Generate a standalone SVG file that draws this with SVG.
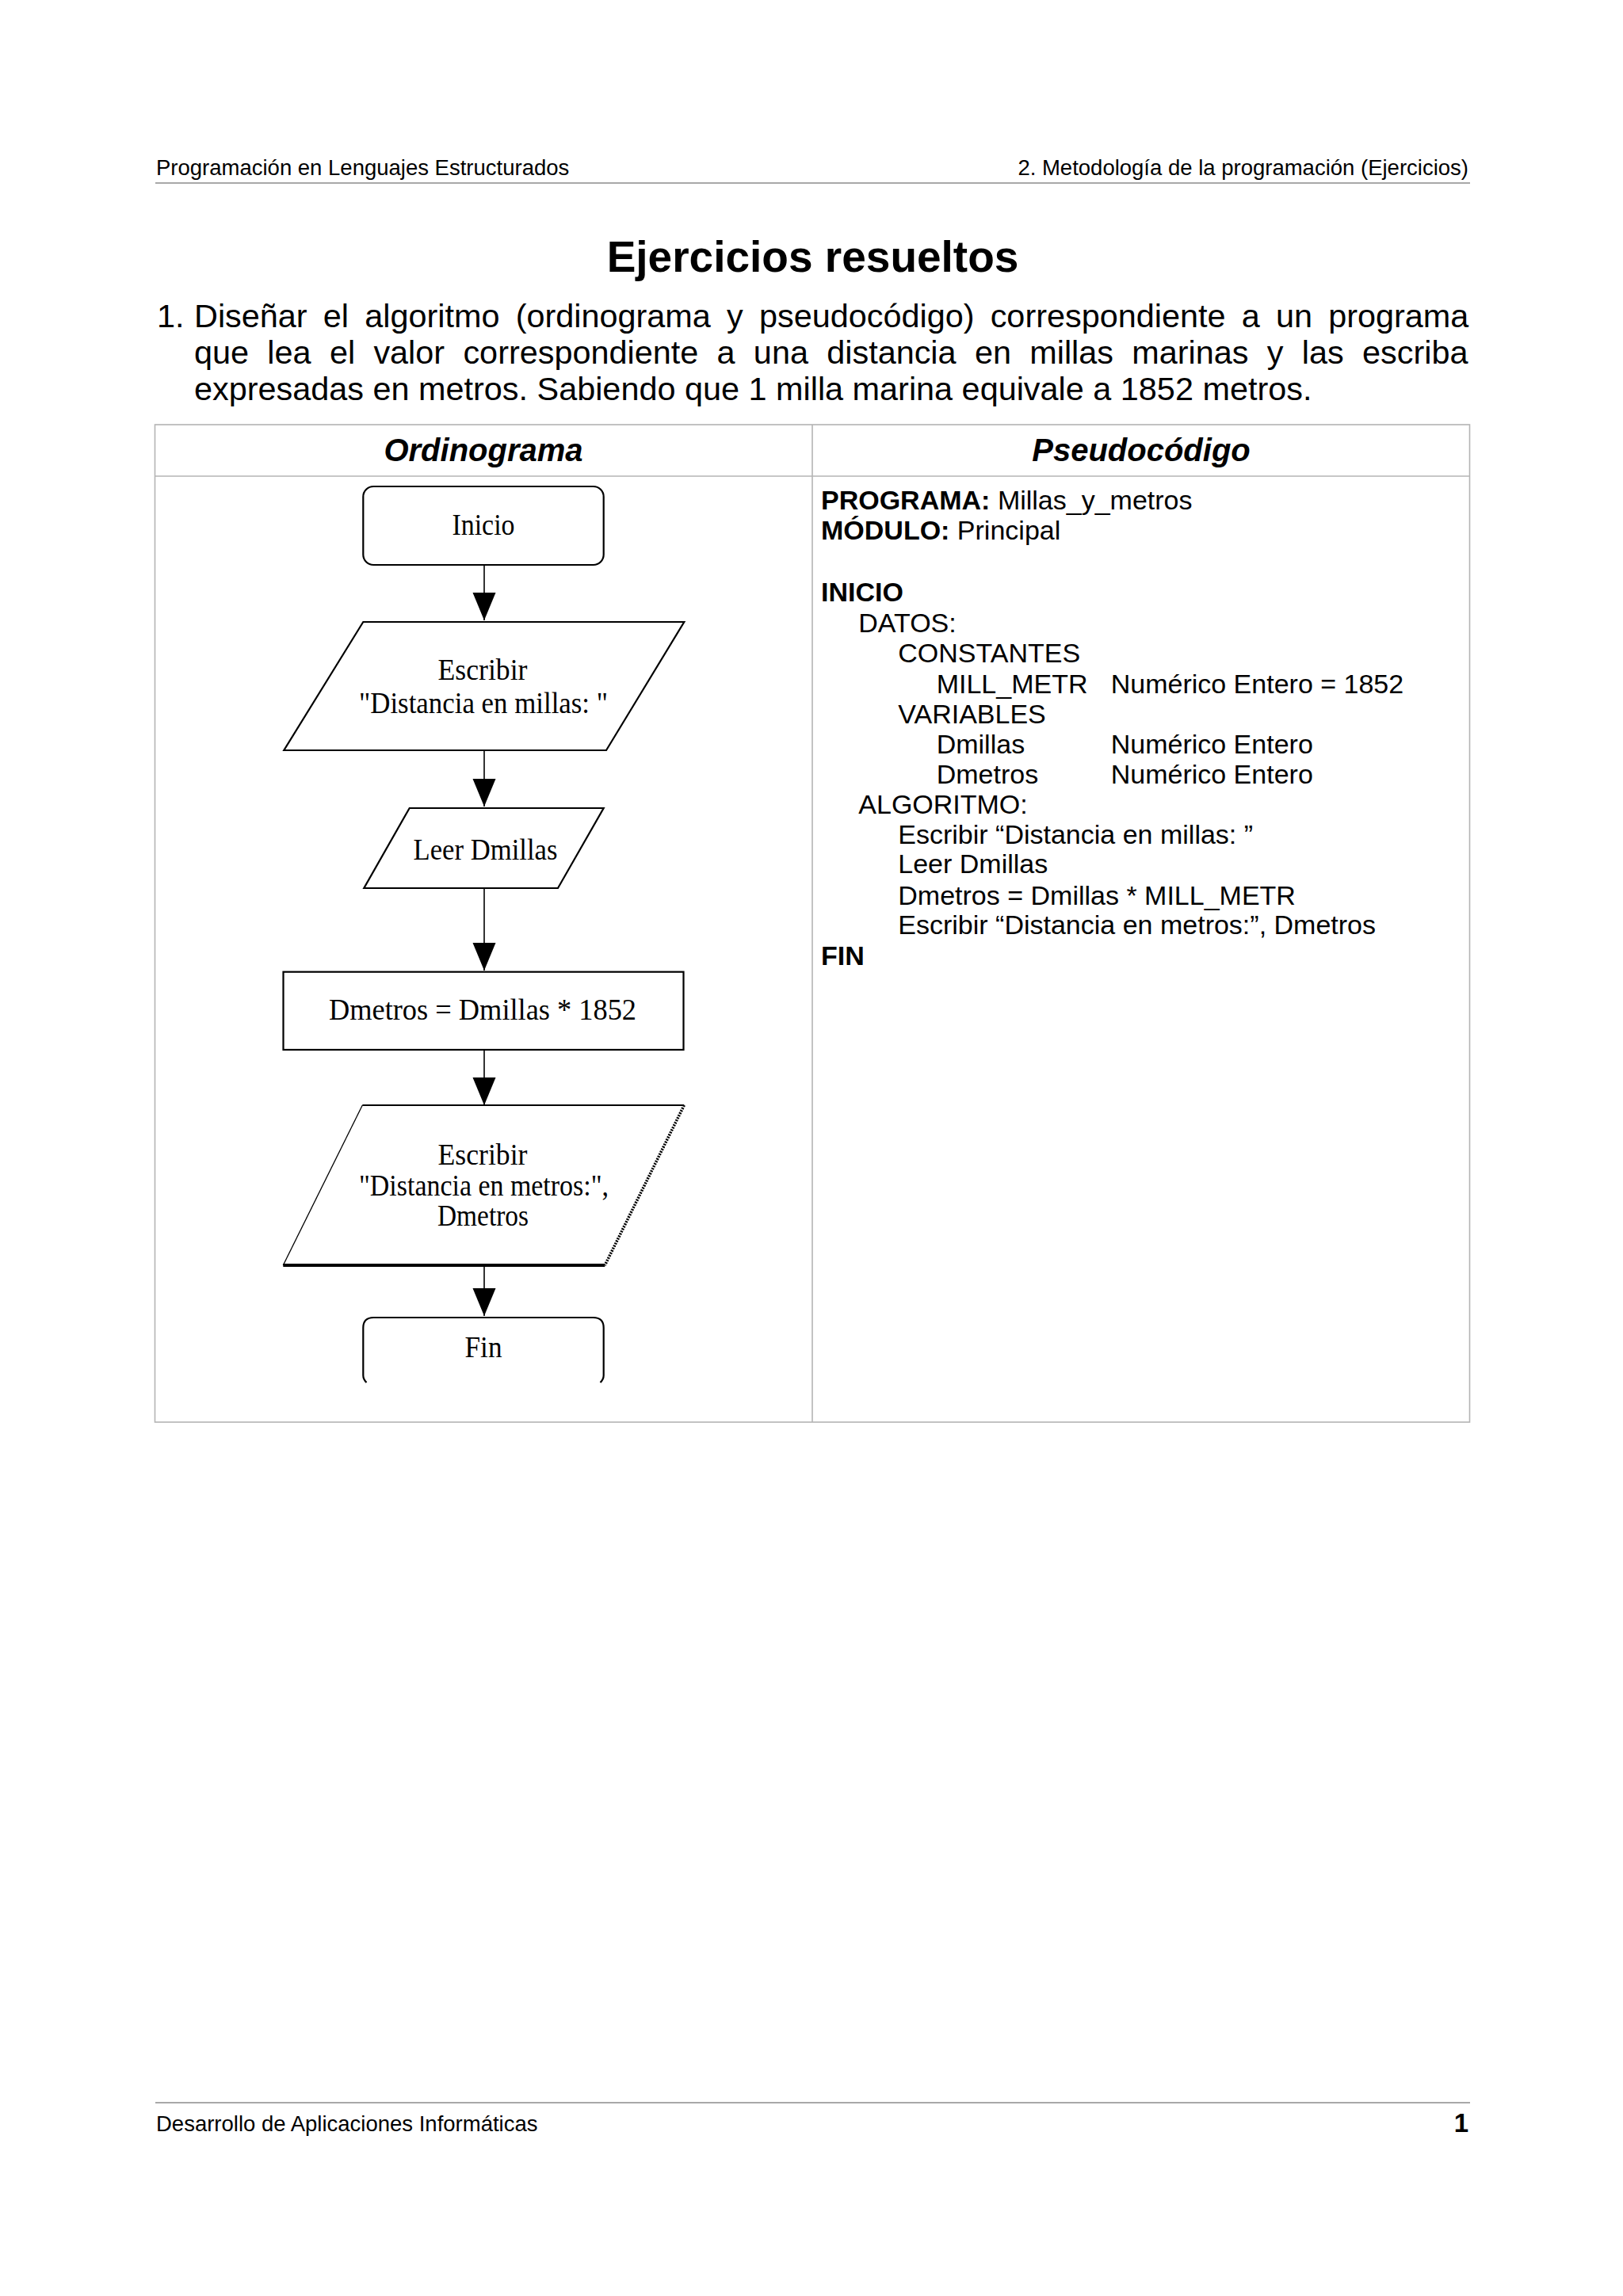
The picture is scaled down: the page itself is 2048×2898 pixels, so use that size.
<svg xmlns="http://www.w3.org/2000/svg" width="2048" height="2898" viewBox="0 0 2048 2898">
<style>
.sans{font-family:"Liberation Sans",Arial,sans-serif;fill:#000}
.b{font-weight:bold}
.hdr{font-size:27.5px}
.para{font-size:41.4px}
.code{font-size:34px}
.fc{font-family:"Liberation Serif","Times New Roman",serif;font-size:38px;fill:#000}
.shape{fill:#fff;stroke:#000;stroke-width:2.2}
.rule{stroke:#a8a8a8;stroke-width:2;fill:none}
.tbl{stroke:#b4b4b4;stroke-width:1.6;fill:none}
.conn{stroke:#000;stroke-width:1.6;fill:none}
</style>
<defs>
<marker id="ah" markerUnits="userSpaceOnUse" viewBox="0 -15 36 30" refX="35" refY="0" markerWidth="36" markerHeight="30" orient="auto">
<path d="M0,-14.5 L35,0 L0,14.5 Z" fill="#000"/>
</marker>
</defs>
<rect width="2048" height="2898" fill="#fff"/>

<g id="page-header">
<text class="sans hdr" x="197" y="220.5">Programación en Lenguajes Estructurados</text>
<text class="sans hdr" x="1853" y="220.5" text-anchor="end">2. Metodología de la programación (Ejercicios)</text>
<line class="rule" x1="196" y1="231" x2="1855" y2="231"/>
</g>

<g id="title">
<text class="sans b" x="1025.5" y="343" font-size="55" text-anchor="middle">Ejercicios resueltos</text>
</g>

<g id="statement">
<text class="sans para" x="198" y="413">1.</text>
<text class="sans para" x="245" y="413" word-spacing="8.7">Diseñar el algoritmo (ordinograma y pseudocódigo) correspondiente a un programa</text>
<text class="sans para" x="245" y="458.5" word-spacing="11.8">que lea el valor correspondiente a una distancia en millas marinas y las escriba</text>
<text class="sans para" x="245" y="505">expresadas en metros. Sabiendo que 1 milla marina equivale a 1852 metros.</text>
</g>

<g id="table">
<rect class="tbl" x="195.5" y="536" width="1659" height="1259"/>
<line class="tbl" x1="195.5" y1="601" x2="1854.5" y2="601"/>
<line class="tbl" x1="1025" y1="536" x2="1025" y2="1795"/>
<text class="sans b" x="610" y="582" font-size="40" font-style="italic" text-anchor="middle">Ordinograma</text>
<text class="sans b" x="1440" y="582" font-size="40" font-style="italic" text-anchor="middle">Pseudocódigo</text>
</g>

<g id="connectors">
<line class="conn" x1="611" y1="713" x2="611" y2="783" marker-end="url(#ah)"/>
<line class="conn" x1="611" y1="947" x2="611" y2="1018" marker-end="url(#ah)"/>
<line class="conn" x1="611" y1="1121" x2="611" y2="1225" marker-end="url(#ah)"/>
<line class="conn" x1="611" y1="1325" x2="611" y2="1395" marker-end="url(#ah)"/>
<line class="conn" x1="611" y1="1597" x2="611" y2="1661" marker-end="url(#ah)"/>
</g>

<g id="node-inicio">
<rect class="shape" x="458.3" y="614" width="303.4" height="99" rx="13" ry="13"/>
<text class="fc" x="610" y="675" text-anchor="middle" textLength="79" lengthAdjust="spacingAndGlyphs">Inicio</text>
</g>

<g id="node-escribir-millas">
<polygon class="shape" points="458.3,785 863.3,785 765,947 358.3,947"/>
<text class="fc" x="609" y="858" text-anchor="middle" textLength="113" lengthAdjust="spacingAndGlyphs">Escribir</text>
<text class="fc" x="610" y="900" text-anchor="middle" textLength="314" lengthAdjust="spacingAndGlyphs">"Distancia en millas: "</text>
</g>

<g id="node-leer">
<polygon class="shape" points="516.7,1020 761.7,1020 704,1121 459.3,1121"/>
<text class="fc" x="612.5" y="1085" text-anchor="middle" textLength="182" lengthAdjust="spacingAndGlyphs">Leer Dmillas</text>
</g>

<g id="node-calculo">
<rect class="shape" x="357.5" y="1226.7" width="505" height="98.3"/>
<text class="fc" x="609" y="1287" text-anchor="middle" textLength="388" lengthAdjust="spacingAndGlyphs">Dmetros = Dmillas * 1852</text>
</g>

<g id="node-escribir-metros">
<polygon points="457.3,1395 863.3,1395 763.3,1597 357.3,1597" fill="#fff"/>
<line x1="457.3" y1="1395" x2="863.3" y2="1395" stroke="#000" stroke-width="2.2"/>
<line x1="863.3" y1="1395" x2="763.3" y2="1597" stroke="#000" stroke-width="3.6" stroke-dasharray="2,1.4"/>
<line x1="357.3" y1="1597" x2="763.3" y2="1597" stroke="#000" stroke-width="4"/>
<line x1="457.3" y1="1395" x2="357.3" y2="1597" stroke="#000" stroke-width="1.3"/>
<text class="fc" x="609" y="1470" text-anchor="middle" textLength="113" lengthAdjust="spacingAndGlyphs">Escribir</text>
<text class="fc" x="610.5" y="1508.5" text-anchor="middle" textLength="315" lengthAdjust="spacingAndGlyphs">"Distancia en metros:",</text>
<text class="fc" x="609.5" y="1547" text-anchor="middle" textLength="115" lengthAdjust="spacingAndGlyphs">Dmetros</text>
</g>

<g id="node-fin">
<path class="shape" d="M462.5,1745 Q458.3,1741 458.3,1736 L458.3,1676 Q458.3,1663 471.3,1663 L748.7,1663 Q761.7,1663 761.7,1676 L761.7,1736 Q761.7,1741 757.5,1745"/>
<text class="fc" x="610" y="1713" text-anchor="middle" textLength="47" lengthAdjust="spacingAndGlyphs">Fin</text>
</g>

<g id="pseudocode">
<text class="sans code" x="1036" y="642.7"><tspan class="b">PROGRAMA:</tspan> Millas_y_metros</text>
<text class="sans code" x="1036" y="681.3"><tspan class="b">MÓDULO:</tspan> Principal</text>
<text class="sans code b" x="1036" y="759">INICIO</text>
<text class="sans code" x="1083.3" y="798">DATOS:</text>
<text class="sans code" x="1133.3" y="836">CONSTANTES</text>
<text class="sans code" x="1181.7" y="874.5">MILL_METR</text>
<text class="sans code" x="1401.7" y="874.5">Numérico Entero = 1852</text>
<text class="sans code" x="1133.3" y="912.7">VARIABLES</text>
<text class="sans code" x="1181.7" y="951">Dmillas</text>
<text class="sans code" x="1401.7" y="951">Numérico Entero</text>
<text class="sans code" x="1181.7" y="988.5">Dmetros</text>
<text class="sans code" x="1401.7" y="988.5">Numérico Entero</text>
<text class="sans code" x="1083.3" y="1026.7">ALGORITMO:</text>
<text class="sans code" x="1133.3" y="1065">Escribir “Distancia en millas: ”</text>
<text class="sans code" x="1133.3" y="1102">Leer Dmillas</text>
<text class="sans code" x="1133.3" y="1141.5">Dmetros = Dmillas * MILL_METR</text>
<text class="sans code" x="1133.3" y="1178.5">Escribir “Distancia en metros:”, Dmetros</text>
<text class="sans code b" x="1036" y="1217.5">FIN</text>
</g>

<g id="page-footer">
<line class="rule" x1="196" y1="2654" x2="1855" y2="2654"/>
<text class="sans hdr" x="197" y="2690">Desarrollo de Aplicaciones Informáticas</text>
<text class="sans b" x="1853" y="2691" font-size="33" text-anchor="end">1</text>
</g>
</svg>
